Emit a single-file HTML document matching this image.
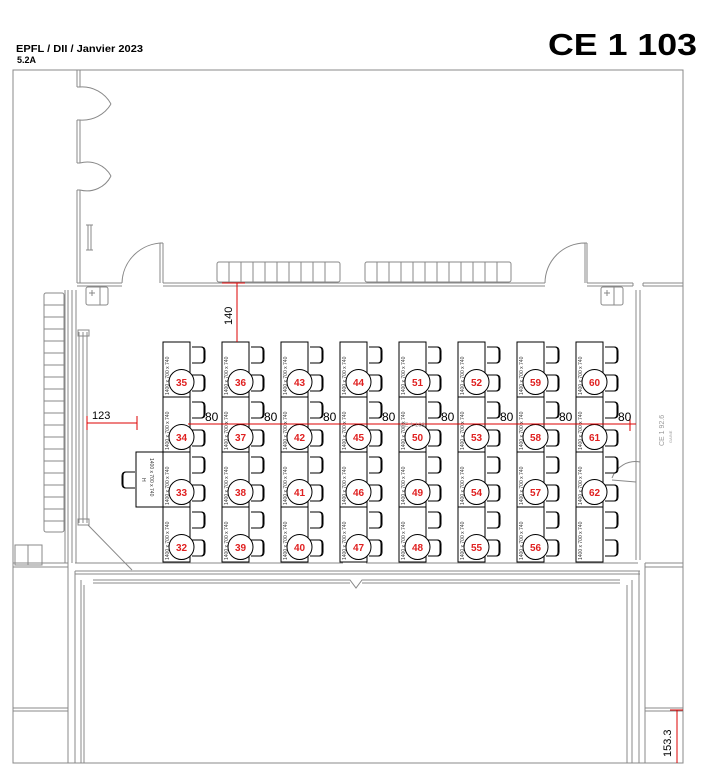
<!DOCTYPE html>
<html><head><meta charset="utf-8"><style>
html,body{margin:0;padding:0;background:#fff}
svg{display:block}
text{font-family:"Liberation Sans",sans-serif}
</style></head><body>
<svg width="708" height="774" viewBox="0 0 708 774" xmlns="http://www.w3.org/2000/svg">
<defs>
<g id="ch" fill="#fff" stroke="#000" stroke-width="1">
<path d="M0,0 h9 q4,0 4,4 v8 q0,4 -4,4 h-9"/><path d="M9,0 q3,0 3,4 v8 q0,4 -3,4" />
</g>
<g id="d">
<rect x="0" y="0" width="27" height="55" fill="#fff" stroke="#000" stroke-width="1"/>
<use href="#ch" x="29" y="5"/><use href="#ch" x="29" y="33"/>
<text transform="translate(6,53) rotate(-90)" font-size="5" fill="#333">1400 x 700 x 740</text>
<circle cx="18.5" cy="40" r="12.5" fill="#fff" stroke="#000" stroke-width="1"/>
</g>
<g id="d2">
<rect x="0" y="0" width="27" height="55" fill="#fff" stroke="#000" stroke-width="1"/>
<use href="#ch" x="29" y="5"/><use href="#ch" x="29" y="33"/>
<text transform="translate(6,53) rotate(-90)" font-size="5" fill="#333">1400 x 700 x 740</text>
</g>
</defs>

<text x="16" y="52" font-size="10" font-weight="bold" textLength="127" lengthAdjust="spacingAndGlyphs">EPFL / DII / Janvier 2023</text>
<text x="17" y="63" font-size="9" font-weight="bold">5.2A</text>
<text x="548" y="55" font-size="31" font-weight="bold" textLength="149" lengthAdjust="spacingAndGlyphs">CE 1 103</text>

<g fill="none" stroke="#888" stroke-width="1">
<rect x="13" y="70" width="670" height="693"/>
<path d="M77,70 V87 M80,70 V87 M77,87 H80 M77,120 V163 M80,120 V163 M77,120 H80 M77,163 H80 M77,190 V283 M80,190 V263 M77,190 H80"/>
<path d="M80,87 A33,33 0 0 1 111,104 M80,120 A33,33 0 0 0 111,104"/>
<path d="M80,163 A27,27 0 0 1 111,176 M80,190 A27,27 0 0 0 111,176"/>
<path d="M88,225 V250 M91,225 V250 M86,225 h7 M86,250 h7"/>
<path d="M77,283 H122 M77,286 H122 M163,283 H545 M163,286 H545 M163,243 V283 M160,243 V283 M160,243 H163"/>
<path d="M163,243 A41,41 0 0 0 122,283"/>
<path d="M585,243 V283 M587,243 V283 M585,243 H587 M585,243 A40,40 0 0 0 545,283"/>
<path d="M587,283 H633 M587,286 H633 M643,283 H683 M643,286 H683 M633,283 V286 M643,283 V286"/>
<path d="M80,255 V283"/>
<rect x="217" y="262" width="123" height="20" rx="2"/>
<path d="M229,262 V282 M241,262 V282 M253,262 V282 M265,262 V282 M277,262 V282 M289,262 V282 M301,262 V282 M313,262 V282 M325,262 V282"/>
<rect x="365" y="262" width="146" height="20" rx="2"/>
<path d="M377,262 V282 M389,262 V282 M401,262 V282 M413,262 V282 M425,262 V282 M437,262 V282 M449,262 V282 M461,262 V282 M473,262 V282 M485,262 V282 M497,262 V282"/>
<rect x="86" y="287" width="22" height="18" rx="2"/><path d="M100,287 V305 M92,290 v6 M89,293 h6"/>
<rect x="601" y="287" width="22" height="18" rx="2"/><path d="M614,287 V305 M607,290 v6 M604,293 h6"/>
<path d="M636,290 V560 M640,290 V560"/>
<path d="M640,462 A25,25 0 0 0 612,478"/>
<path d="M612,480 L636,482"/>
<rect x="44" y="293" width="20" height="239" rx="2"/>
<path d="M44,305 h20 M44,317 h20 M44,329 h20 M44,341 h20 M44,353 h20 M44,365 h20 M44,377 h20 M44,389 h20 M44,401 h20 M44,413 h20 M44,425 h20 M44,437 h20 M44,449 h20 M44,461 h20 M44,473 h20 M44,485 h20 M44,497 h20 M44,509 h20 M44,521 h20"/>
<path d="M65,290 V563 M68,290 V563 M72,290 V563 M76,290 V563"/>
<path d="M79,332 V523 M83,332 V523 M87,332 V523"/>
<rect x="78" y="330" width="11" height="6"/><rect x="78" y="519" width="11" height="6"/>
<path d="M88,525 L132,570"/>
<rect x="15" y="545" width="27" height="20"/><path d="M28,545 V565"/>
<path d="M13,563 H68 M13,567 H68 M75,563 H343 M366,563 H638 M645,563 H683 M645,567 H683"/>
<path d="M75,571 H640 M75,574 H640 M93,580 H350 L356,588 L362,580 H620 M93,583 H350 M362,583 H620"/>
<path d="M68,563 V763 M75,571 V763 M81,580 V763 M84,585 V763 M627,585 V763 M632,580 V763 M639,571 V763 M645,563 V763"/>
<path d="M13,708 H68 M13,711 H68 M645,708 H683 M645,711 H683"/>
</g>

<rect x="136" y="452" width="27" height="55" fill="#fff" stroke="#000"/>
<use href="#ch" x="-135" y="472" transform="scale(-1,1)"/>
<text transform="translate(150,458) rotate(90)" font-size="5" fill="#333">1400 x 700 x 740</text>
<text transform="translate(142,478) rotate(90)" font-size="5" fill="#333">H</text>

<g>
<use href="#d" x="163" y="342"/><use href="#d" x="163" y="397"/><use href="#d" x="163" y="452"/><use href="#d" x="163" y="507"/>
<use href="#d" x="222" y="342"/><use href="#d" x="222" y="397"/><use href="#d" x="222" y="452"/><use href="#d" x="222" y="507"/>
<use href="#d" x="281" y="342"/><use href="#d" x="281" y="397"/><use href="#d" x="281" y="452"/><use href="#d" x="281" y="507"/>
<use href="#d" x="340" y="342"/><use href="#d" x="340" y="397"/><use href="#d" x="340" y="452"/><use href="#d" x="340" y="507"/>
<use href="#d" x="399" y="342"/><use href="#d" x="399" y="397"/><use href="#d" x="399" y="452"/><use href="#d" x="399" y="507"/>
<use href="#d" x="458" y="342"/><use href="#d" x="458" y="397"/><use href="#d" x="458" y="452"/><use href="#d" x="458" y="507"/>
<use href="#d" x="517" y="342"/><use href="#d" x="517" y="397"/><use href="#d" x="517" y="452"/><use href="#d" x="517" y="507"/>
<use href="#d" x="576" y="342"/><use href="#d" x="576" y="397"/><use href="#d" x="576" y="452"/><use href="#d2" x="576" y="507"/>
</g>

<g stroke="#d00" stroke-width="1" fill="none">
<path d="M237,283 V342 M222,283 H245"/>
<path d="M87,423 H137 M87,416 V430 M137,416 V430"/>
<path d="M188,424 H636 M630,417 V431"/>
<path d="M677,710 V763 M670,710 H683"/>
</g>
<g font-size="12" fill="#000">
<text transform="translate(232,325) rotate(-90)" font-size="11">140</text>
<text x="92" y="419" font-size="11">123</text>
<text x="205" y="421">80</text><text x="264" y="421">80</text><text x="323" y="421">80</text><text x="382" y="421">80</text>
<text x="441" y="421">80</text><text x="500" y="421">80</text><text x="559" y="421">80</text><text x="618" y="421">80</text>
<text transform="translate(671,757) rotate(-90)" font-size="11">153.3</text>
</g>
<text transform="translate(664,446) rotate(-90)" font-size="7" fill="#999">CE 1 92.6</text>
<text transform="translate(672,443) rotate(-90)" font-size="4" fill="#999">GAINE</text>
<text x="400" y="427" font-size="6" fill="#aaa">CE 1 103</text>

<g font-size="10" font-weight="bold" fill="#e02020" text-anchor="middle">
<text x="181.5" y="386">35</text><text x="181.5" y="441">34</text><text x="181.5" y="496">33</text><text x="181.5" y="551">32</text>
<text x="240.5" y="386">36</text><text x="240.5" y="441">37</text><text x="240.5" y="496">38</text><text x="240.5" y="551">39</text>
<text x="299.5" y="386">43</text><text x="299.5" y="441">42</text><text x="299.5" y="496">41</text><text x="299.5" y="551">40</text>
<text x="358.5" y="386">44</text><text x="358.5" y="441">45</text><text x="358.5" y="496">46</text><text x="358.5" y="551">47</text>
<text x="417.5" y="386">51</text><text x="417.5" y="441">50</text><text x="417.5" y="496">49</text><text x="417.5" y="551">48</text>
<text x="476.5" y="386">52</text><text x="476.5" y="441">53</text><text x="476.5" y="496">54</text><text x="476.5" y="551">55</text>
<text x="535.5" y="386">59</text><text x="535.5" y="441">58</text><text x="535.5" y="496">57</text><text x="535.5" y="551">56</text>
<text x="594.5" y="386">60</text><text x="594.5" y="441">61</text><text x="594.5" y="496">62</text>
</g>
</svg>
</body></html>
